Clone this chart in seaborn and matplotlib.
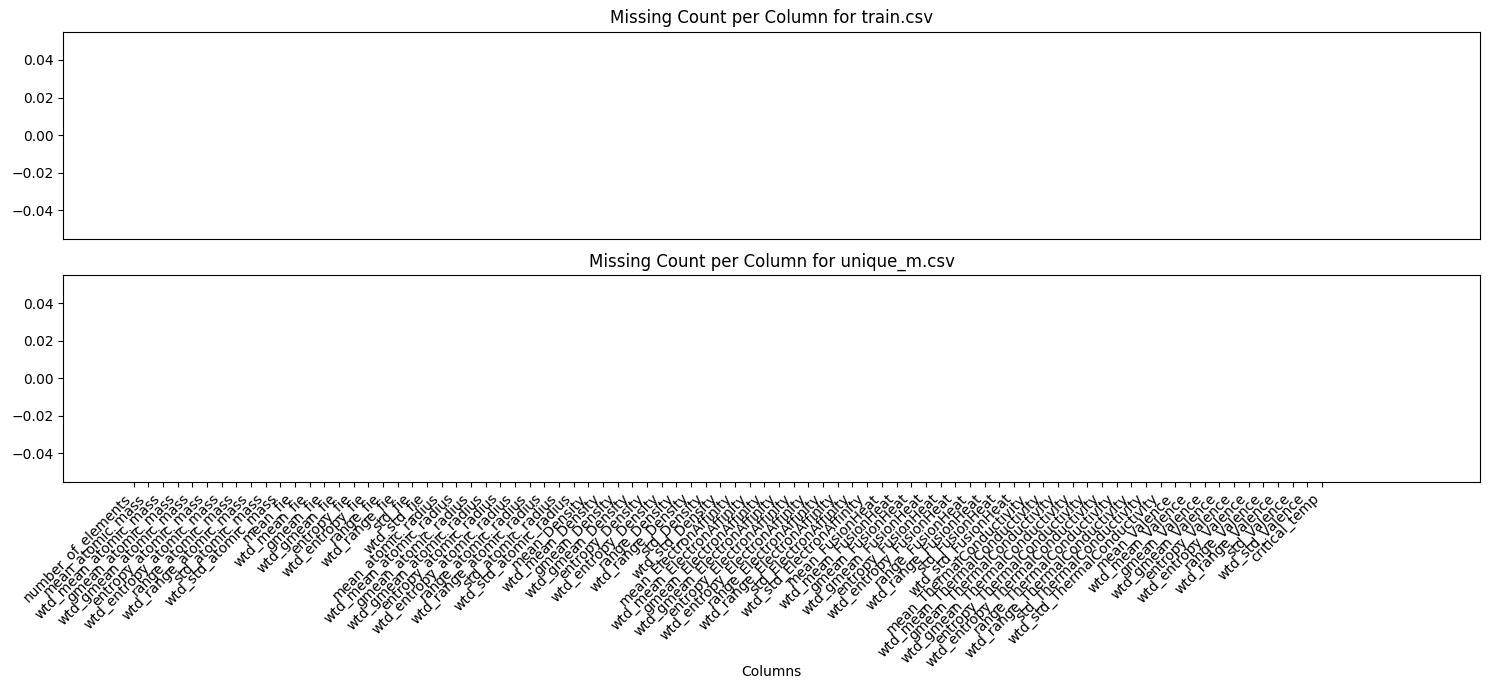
import matplotlib
matplotlib.use("Agg")
import matplotlib.pyplot as plt
import seaborn as sns
import pandas as pd

# column names of train.csv (shown as tick labels)
train_columns = [
    "number_of_elements",
    "mean_atomic_mass", "wtd_mean_atomic_mass", "gmean_atomic_mass", "wtd_gmean_atomic_mass",
    "entropy_atomic_mass", "wtd_entropy_atomic_mass", "range_atomic_mass", "wtd_range_atomic_mass",
    "std_atomic_mass", "wtd_std_atomic_mass",
    "mean_fie", "wtd_mean_fie", "gmean_fie", "wtd_gmean_fie",
    "entropy_fie", "wtd_entropy_fie", "range_fie", "wtd_range_fie",
    "std_fie", "wtd_std_fie",
    "mean_atomic_radius", "wtd_mean_atomic_radius", "gmean_atomic_radius", "wtd_gmean_atomic_radius",
    "entropy_atomic_radius", "wtd_entropy_atomic_radius", "range_atomic_radius", "wtd_range_atomic_radius",
    "std_atomic_radius", "wtd_std_atomic_radius",
    "mean_Density", "wtd_mean_Density", "gmean_Density", "wtd_gmean_Density",
    "entropy_Density", "wtd_entropy_Density", "range_Density", "wtd_range_Density",
    "std_Density", "wtd_std_Density",
    "mean_ElectronAffinity", "wtd_mean_ElectronAffinity", "gmean_ElectronAffinity", "wtd_gmean_ElectronAffinity",
    "entropy_ElectronAffinity", "wtd_entropy_ElectronAffinity", "range_ElectronAffinity", "wtd_range_ElectronAffinity",
    "std_ElectronAffinity", "wtd_std_ElectronAffinity",
    "mean_FusionHeat", "wtd_mean_FusionHeat", "gmean_FusionHeat", "wtd_gmean_FusionHeat",
    "entropy_FusionHeat", "wtd_entropy_FusionHeat", "range_FusionHeat", "wtd_range_FusionHeat",
    "std_FusionHeat", "wtd_std_FusionHeat",
    "mean_ThermalConductivity", "wtd_mean_ThermalConductivity", "gmean_ThermalConductivity",
    "wtd_gmean_ThermalConductivity", "entropy_ThermalConductivity", "wtd_entropy_ThermalConductivity",
    "range_ThermalConductivity", "wtd_range_ThermalConductivity",
    "std_ThermalConductivity", "wtd_std_ThermalConductivity",
    "mean_Valence", "wtd_mean_Valence", "gmean_Valence", "wtd_gmean_Valence",
    "entropy_Valence", "wtd_entropy_Valence", "range_Valence", "wtd_range_Valence",
    "std_Valence", "wtd_std_Valence",
    "critical_temp",
]

# missing counts: nothing missing anywhere
train_missing = [0, 0, 0, 0, 0, 0, 0, 0, 0, 0, 0, 0, 0, 0, 0, 0, 0, 0, 0, 0, 0,
                 0, 0, 0, 0, 0, 0, 0, 0, 0, 0, 0, 0, 0, 0, 0, 0, 0, 0, 0, 0,
                 0, 0, 0, 0, 0, 0, 0, 0, 0, 0, 0, 0, 0, 0, 0, 0, 0, 0, 0, 0,
                 0, 0, 0, 0, 0, 0, 0, 0, 0, 0, 0, 0, 0, 0, 0, 0, 0, 0, 0, 0, 0]
unique_m_missing = [0, 0, 0, 0, 0, 0, 0, 0, 0, 0, 0, 0, 0, 0, 0, 0, 0, 0, 0, 0, 0,
                    0, 0, 0, 0, 0, 0, 0, 0, 0, 0, 0, 0, 0, 0, 0, 0, 0, 0, 0, 0,
                    0, 0, 0, 0, 0, 0, 0, 0, 0, 0, 0, 0, 0, 0, 0, 0, 0, 0, 0, 0,
                    0, 0, 0, 0, 0, 0, 0, 0, 0, 0, 0, 0, 0, 0, 0, 0, 0, 0, 0, 0, 0]

train_df = pd.DataFrame({"Columns": train_columns, "Missing": train_missing})
unique_df = pd.DataFrame({"Columns": train_columns, "Missing": unique_m_missing})

fig, axes = plt.subplots(2, 1, figsize=(14.9, 6.9), dpi=100)
fig.subplots_adjust(left=63.3 / 1490, right=1480.3 / 1490,
                    top=1 - 31.7 / 690, bottom=1 - 481.7 / 690, hspace=0.1755)

sns.barplot(data=train_df, x="Columns", y="Missing", ax=axes[0], linewidth=0)
axes[0].set_title("Missing Count per Column for train.csv")
axes[0].set_xticks([])
axes[0].set_xlabel("")
axes[0].set_ylabel("")

sns.barplot(data=unique_df, x="Columns", y="Missing", ax=axes[1], linewidth=0)
axes[1].set_title("Missing Count per Column for unique_m.csv")
axes[1].set_xticks(range(len(train_columns)))
axes[1].set_xticklabels(train_columns, rotation=45, ha="right")
axes[1].set_xlabel("Columns")
axes[1].xaxis.set_label_coords(0.5, -(665 - 481.7) / 206.4)
axes[1].set_ylabel("")

for ax in axes:
    ax.set_ylim(-0.055, 0.055)
    ax.set_xlim(-4.79, 91.79)

plt.savefig("out.png")
